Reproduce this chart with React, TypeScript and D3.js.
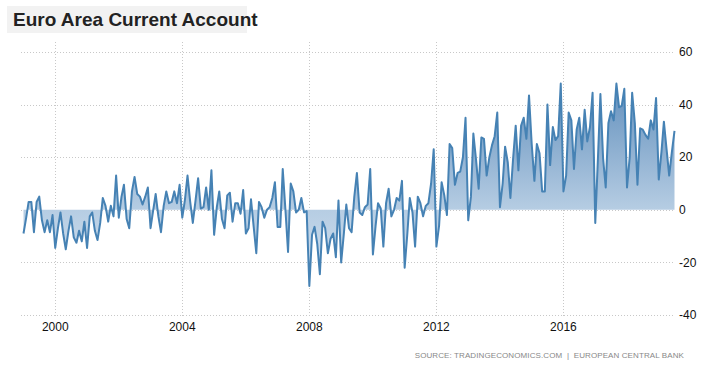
import * as d3 from 'd3';
import {useEffect, useRef} from 'react';

// monthly values, Jan 1999 .. Jul 2019 (EUR billion)
const startYear = 1999;
const values: number[] = [
	-9, -3, 3, 3, -8.5, 3, 5, -4, -8.5, -4, -8.5, -2,
	-14.5, -7, -1, -9, -15, -8, -2.5, -10.5, -12.5, -8, -12, -4.5,
	-14.5, -2.5, -1, -8, -11.5, -5, 4.5, 1.5, -4.5, 1.5, -2.5, 13,
	-3, 5, 9.5, -3.5, -7, 7, 12.5, 6, 5, 2, 5, 8.5,
	-7, 0, 6, -2.5, -8.5, 1.5, 7, 2.5, 3, 7, 2.5, 9.5,
	-3, 4, 13, 3, -5, 3.5, 12, 0.5, 1, 8.5, 0, 15,
	-9.5, 1, 7, -3.5, -7, 5.5, 6.5, -4.5, 2.5, 2.5, -1.5, 7.5,
	-9, -7, 4, -6.5, -16.5, 3, 1, -3, 0, 1, 4.5, 10.5,
	-6.5, -6.5, 15.5, 0, -16, 10, 7, -1, 0, 4.5, -1, -0.5,
	-29, -9.5, -6.5, -13, -24.5, -4.5, -7, -16.5, -11, -9, -18, 3.5,
	-20, -9, 2, -7, -8.5, 5, 14, -1, -2, 1, 2, 15.5,
	-17, -6, 2.5, 0.5, -14, 2.5, 8, -2.5, 0, 4.5, 3.5, 11,
	-22, -9, 4.5, -1, -14, 5, 2.5, -2.5, 1.5, 2.5, 10, 23,
	-14, -6, 10.5, 5.5, -2, 25, 23.5, 9.5, 14, 14.5, 20, 35,
	-4, 5, 29, 19, 8, 27.5, 27, 13, 20, 24.5, 28, 37,
	1, 10, 24, 18, 4.5, 19.5, 32, 15, 32, 35, 27, 43.5,
	25, 11, 25, 21.5, 7, 7, 40, 17, 31.5, 26.5, 28, 48,
	7, 13, 37, 34, 15.5, 30.5, 35, 23, 38, 26, 31.5, 44.5,
	-5, 20, 44, 19.5, 8.5, 33, 37.5, 34, 48, 39, 39.5, 46,
	8.5, 20, 44.5, 33, 9.5, 31, 30.5, 28.5, 27, 34, 30.5, 42.5,
	11.5, 22, 33.5, 23, 13, 22, 30,
];
const yTicks = [-40, -20, 0, 20, 40, 60];
const xTickYears = [2000, 2004, 2008, 2012, 2016];

const title = 'Euro Area Current Account';
const source = 'SOURCE: TRADINGECONOMICS.COM  |  EUROPEAN CENTRAL BANK';

export default function App() {
	const svgRef = useRef<SVGSVGElement>(null);

	const width = 704;
	const height = 375;
	const plot = {left: 21, right: 675, top: 42, bottom: 318};

	useEffect(() => {
		const svg = d3.select(svgRef.current);
		svg.selectAll('*').remove();

		const data = values.map((v, i) => ({date: new Date(startYear, i, 1), value: v}));

		const x = d3
			.scaleTime()
			.domain([data[0].date, data[data.length - 1].date])
			.range([23.5, 674.5]);

		const y = d3.scaleLinear().domain([-40, 60]).range([315, 52]);

		const defs = svg.append('defs');
		const grad = defs
			.append('linearGradient')
			.attr('id', 'areaFill')
			.attr('gradientUnits', 'userSpaceOnUse')
			.attr('x1', 0)
			.attr('x2', 0)
			.attr('y1', y(60))
			.attr('y2', y(-40));
		grad.append('stop').attr('offset', '0%').attr('stop-color', '#4d80b3');
		grad.append('stop').attr('offset', '60%').attr('stop-color', '#b6cde3');
		grad.append('stop').attr('offset', '100%').attr('stop-color', '#dfe9f3');

		// title
		svg.append('rect').attr('x', 7).attr('y', 6).attr('width', 240).attr('height', 27).attr('fill', '#f2f2f2');
		svg
			.append('text')
			.attr('x', 13)
			.attr('y', 26)
			.text(title)
			.style('font-family', 'Liberation Sans, Arial, sans-serif')
			.style('font-weight', 'bold')
			.style('font-size', '19px')
			.style('fill', '#222');

		// gridlines
		const grid = svg.append('g').attr('stroke', '#c8c8c8').attr('stroke-dasharray', '1,2');
		grid
			.selectAll('.hgrid')
			.data(yTicks)
			.join('line')
			.attr('x1', plot.left)
			.attr('x2', plot.right)
			.attr('y1', (d) => Math.round(y(d)) + 0.5)
			.attr('y2', (d) => Math.round(y(d)) + 0.5);
		grid
			.selectAll('.vgrid')
			.data(xTickYears)
			.join('line')
			.attr('x1', (d) => Math.round(x(new Date(d, 0, 1))) + 0.5)
			.attr('x2', (d) => Math.round(x(new Date(d, 0, 1))) + 0.5)
			.attr('y1', plot.top)
			.attr('y2', plot.bottom);

		// area + line
		const area = d3
			.area<{date: Date; value: number}>()
			.x((d) => x(d.date))
			.y0(y(0))
			.y1((d) => y(d.value));
		svg.append('path').datum(data).attr('d', area).attr('fill', 'url(#areaFill)');

		const line = d3
			.line<{date: Date; value: number}>()
			.x((d) => x(d.date))
			.y((d) => y(d.value));
		svg
			.append('path')
			.datum(data)
			.attr('d', line)
			.attr('fill', 'none')
			.attr('stroke', '#4682b4')
			.attr('stroke-width', 2)
			.attr('stroke-linejoin', 'round');

		// y labels (right)
		svg
			.selectAll('.ylab')
			.data(yTicks)
			.join('text')
			.attr('x', 679)
			.attr('y', (d) => y(d))
			.attr('dy', '0.35em')
			.text((d) => d)
			.style('font-family', 'Liberation Sans, Arial, sans-serif')
			.style('font-size', '12px')
			.style('fill', '#111');

		// x labels
		svg
			.selectAll('.xlab')
			.data(xTickYears)
			.join('text')
			.attr('x', (d) => x(new Date(d, 0, 1)))
			.attr('y', 331)
			.attr('text-anchor', 'middle')
			.text((d) => d)
			.style('font-family', 'Liberation Sans, Arial, sans-serif')
			.style('font-size', '12px')
			.style('fill', '#111');

		svg
			.append('text')
			.attr('x', 684)
			.attr('y', 358)
			.attr('text-anchor', 'end')
			.text(source)
			.style('font-family', 'Liberation Sans, Arial, sans-serif')
			.style('font-size', '8px')
			.style('letter-spacing', '0.1px')
			.style('white-space', 'pre')
			.style('fill', '#888');
	}, []);

	return (
		<svg
			ref={svgRef}
			width={width}
			height={height}
			style={{position: 'absolute', left: 0, top: 0, background: '#fff'}}
		/>
	);
}
